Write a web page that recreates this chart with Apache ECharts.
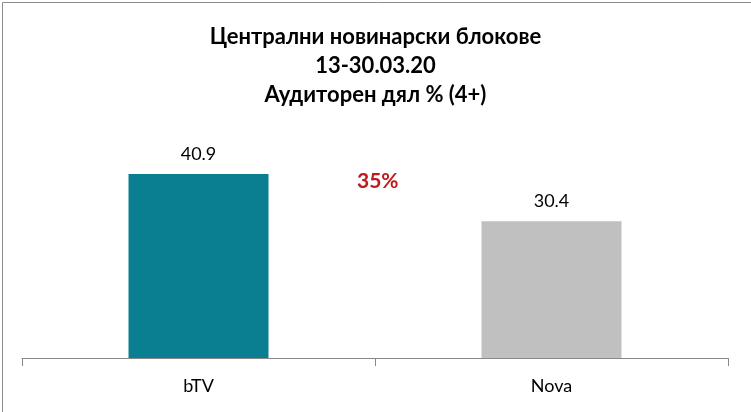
<!DOCTYPE html>
<html><head><meta charset="utf-8">
<script src="https://cdn.jsdelivr.net/npm/echarts@6/dist/echarts.min.js"></script>
<style>html,body{margin:0;padding:0;background:#fff;}#c{width:751px;height:412px;}</style>
</head><body><div id="c"></div>
<script>
const categories = ['bTV', 'Nova'];
const values = [40.9, 30.4];
const barColors = ['#0a7f91', '#c0c0c0'];
const titleLines = ['Централни новинарски блокове', '13-30.03.20', 'Аудиторен дял % (4+)'];
const annotation = '35%';

const chart = echarts.init(document.getElementById('c'));
chart.setOption({
  animation: false,
  backgroundColor: '#fff',
  title: {
    text: titleLines.join('\n'),
    left: 'center', top: 17,
    textStyle: { fontFamily: 'Lato', fontWeight: 'bold', fontSize: 22, lineHeight: 29, color: '#000' }
  },
  grid: { left: 22, right: 23, top: 133, bottom: 54 },
  xAxis: {
    type: 'category', data: categories,
    axisLine: { lineStyle: { color: '#888', width: 1 } },
    axisTick: { show: true, length: 8, lineStyle: { color: '#888' } },
    axisLabel: { color: '#000', fontFamily: 'Lato', fontSize: 18, margin: 19 }
  },
  yAxis: { type: 'value', min: 0, max: 50, show: false, splitLine: { show: false } },
  series: [{
    type: 'bar', barWidth: 140,
    data: values.map((v, i) => ({ value: v, itemStyle: { color: barColors[i] } })),
    label: { show: true, position: 'top', distance: 11, color: '#000', fontFamily: 'Lato', fontSize: 18 }
  }],
  graphic: [
    { type: 'rect', left: 0, top: 0, shape: { width: 750, height: 411 }, style: { fill: 'none', stroke: '#8c8c8c', lineWidth: 1 }, z: 100 },
    { type: 'text', left: 357, top: 171, style: { text: annotation, fill: '#c0191c', fontFamily: 'Lato', fontWeight: 'bold', fontSize: 21 } }
  ]
});
</script></body></html>
